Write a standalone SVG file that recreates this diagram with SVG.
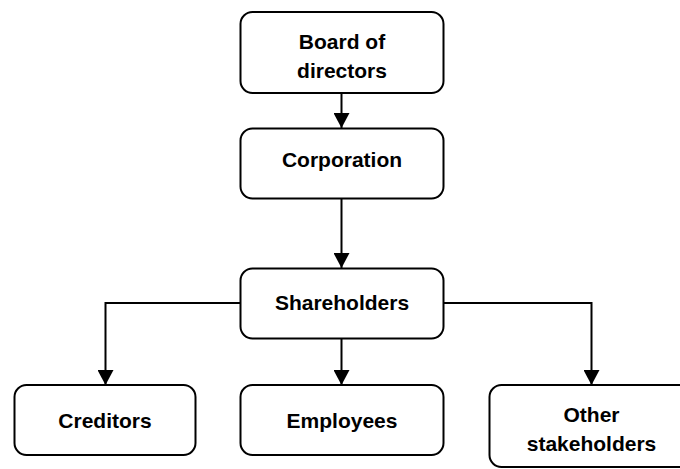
<svg xmlns="http://www.w3.org/2000/svg" width="680" height="469" viewBox="0 0 680 469">
<style>
.box{fill:#fff;stroke:#000;stroke-width:2}
.lbl{font-family:"Liberation Sans",Arial,sans-serif;font-weight:bold;font-size:21px;fill:#000;text-anchor:middle}
.edge{fill:none;stroke:#000;stroke-width:2}
</style>
<defs>
<marker id="arr" markerUnits="userSpaceOnUse" markerWidth="16" markerHeight="16" refX="15" refY="8" orient="auto">
<path d="M0,0 L15,8 L0,16 Z" fill="#000"/>
</marker>
</defs>
<rect width="680" height="469" fill="#fff"/>
<g id="connectors">
<path class="edge" d="M341.5,93 V128" marker-end="url(#arr)"/>
<path class="edge" d="M341.5,198 V268" marker-end="url(#arr)"/>
<path class="edge" d="M341.5,338 V385" marker-end="url(#arr)"/>
<path class="edge" d="M240.5,303 H105.5 V385" marker-end="url(#arr)"/>
<path class="edge" d="M443,303 H591.5 V385" marker-end="url(#arr)"/>
</g>
<g id="board">
<rect class="box" x="240.5" y="12" width="203" height="81" rx="12"/>
<text class="lbl" x="342" y="48.5">Board of</text>
<text class="lbl" x="342" y="77.5">directors</text>
</g>
<g id="corporation">
<rect class="box" x="240.5" y="128.5" width="203" height="70" rx="12"/>
<text class="lbl" x="342" y="167">Corporation</text>
</g>
<g id="shareholders">
<rect class="box" x="240.5" y="268.5" width="203" height="70" rx="12"/>
<text class="lbl" x="342" y="310">Shareholders</text>
</g>
<g id="creditors">
<rect class="box" x="14.5" y="385" width="181" height="70" rx="12"/>
<text class="lbl" x="105" y="427.5">Creditors</text>
</g>
<g id="employees">
<rect class="box" x="240.5" y="385" width="203" height="70" rx="12"/>
<text class="lbl" x="342" y="427.5">Employees</text>
</g>
<g id="other">
<rect class="box" x="489.5" y="385" width="204" height="82" rx="12"/>
<text class="lbl" x="591.5" y="422">Other</text>
<text class="lbl" x="591.5" y="450.5">stakeholders</text>
</g>
</svg>
